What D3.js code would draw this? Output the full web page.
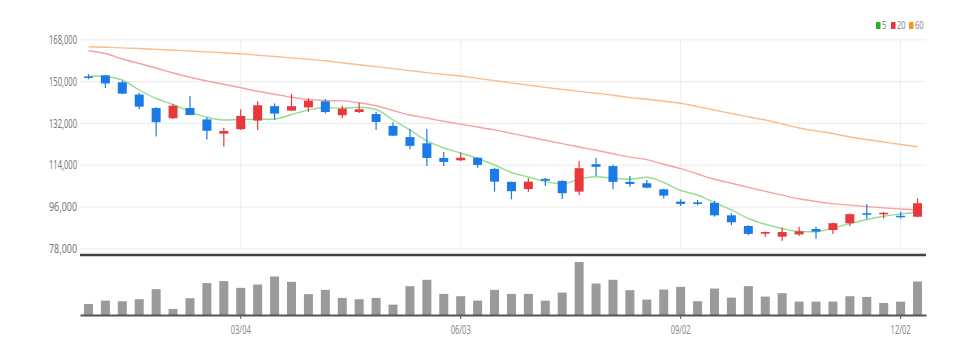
<!DOCTYPE html>
<html>
<head>
<meta charset="utf-8">
<script src="https://cdn.jsdelivr.net/npm/d3@7"></script>
<style>
  body { margin: 0; background: #fff; }
  text { font-family: "Noto Sans", sans-serif; }
</style>
</head>
<body>
<script>
// weekly candles, 2024
const weeks = ["01/01","01/08","01/15","01/22","01/29","02/05","02/12","02/19","02/26","03/04",
  "03/11","03/18","03/25","04/01","04/08","04/15","04/22","04/29","05/06","05/13",
  "05/20","05/27","06/03","06/10","06/17","06/24","07/01","07/08","07/15","07/22",
  "07/29","08/05","08/12","08/19","08/26","09/02","09/09","09/16","09/23","09/30",
  "10/07","10/14","10/21","10/28","11/04","11/11","11/18","11/25","12/02","12/09"];

const open = [152000,152500,149500,144200,138400,134000,138400,133500,127400,129300,
  133000,139200,137300,138700,141300,135300,136700,135800,130700,125900,
  123200,116900,115900,117000,112200,106600,103500,107900,107000,102400,
  114200,113400,106600,106000,103400,98100,97800,97600,92200,87600,
  84300,83000,84000,86300,85900,88800,93100,92700,92000,91600];
const high = [153000,152700,150200,145000,138700,140100,143600,134400,129900,137900,
  141300,140400,144600,142600,142200,139400,140700,136800,132300,129500,
  129400,119500,119200,117200,112700,106700,108200,108400,107300,115600,
  116900,114000,109100,107400,103600,99100,98800,98400,93100,87900,
  85200,86900,87300,87300,89000,93100,97100,93600,93900,99500];
const low = [150800,147000,144300,137900,126100,133700,135300,124900,121800,128900,
  128900,133300,137100,136800,136000,134100,136300,128900,126400,120600,
  113400,113400,115600,112700,102400,99100,102300,104800,99200,101000,
  109100,103400,104500,103900,99400,96200,96500,91600,88000,83600,
  83000,81300,83300,82100,84200,87600,90500,90800,90800,91400];
const close = [151500,149000,144600,139000,132300,139400,135400,128600,128500,135000,
  139600,136000,139200,141600,136700,138100,137900,132400,126500,122100,
  116900,115200,117000,113900,106700,102600,106700,107100,101700,112500,
  113100,106600,105700,104100,100700,97100,97100,92200,89200,84200,
  85000,85000,85300,85200,88800,92700,92500,93300,91400,97400];

// moving averages as drawn
const ma5 = [152200,151980,150470,146170,142510,139930,136830,134410,133250,133470,
  133550,133680,135620,137560,138630,138290,138720,137770,133250,128950,
  124210,121190,119040,116670,113870,110640,108710,106770,105690,107850,
  108840,108150,107720,108620,106340,102890,100960,97640,94500,90840,
  88340,86530,85240,85150,86750,88680,90410,91780,92770,93640];
const ma20 = [163090,161890,159520,157580,155640,153490,151680,150040,148620,147160,
  145610,144360,143030,142120,141650,141470,140700,139370,137340,135400,
  134110,132690,131440,130240,128990,127480,126020,124510,123050,121620,
  120200,118740,117280,116160,114180,112280,110000,107720,105990,104230,
  102510,100870,99320,98160,97250,96610,95960,95400,94930,94500];
const ma60 = [164810,164560,164300,164040,163650,163310,162920,162570,162190,161760,
  161150,160590,159990,159390,158740,157880,157020,156240,155380,154520,
  153660,152890,152200,151160,150220,149230,148280,147290,146430,145570,
  144750,143930,142900,142210,141350,140440,139020,137560,136050,134630,
  133250,131530,129810,128560,127440,125930,124850,123780,122700,121750];

// volume (thousand shares)
const volume = [220,286,274,314,514,120,334,634,674,540,
  606,766,660,414,500,340,314,340,206,574,
  700,420,374,286,500,420,420,286,446,1054,
  626,700,494,306,506,560,274,526,346,574,
  366,434,266,266,266,374,360,240,266,666];

const priceTicks = [78000,96000,114000,132000,150000,168000];
const dateTicks = ["03/04","06/03","09/02","12/02"];

const width = 975;
const height = 354;
const marginLeft = 80;
const marginRight = 49;
const priceTop = 39.3;
const priceBottom = 248.3;
const sepY = 255;
const volTop = 262;
const volBottom = 315;

const upColor = "#e8383b";
const downColor = "#1b7be6";

const idx = d3.range(weeks.length);

const x = d3.scaleBand()
    .domain(weeks)
    .range([marginLeft, width - marginRight])
    .padding(0);

const cx = d => x(weeks[d]) + x.bandwidth() / 2;

const y = d3.scaleLinear()
    .domain([78000, 168000])
    .range([priceBottom, priceTop]);

const yVol = d3.scaleLinear()
    .domain([0, d3.max(volume)])
    .range([volBottom, volTop]);

const svg = d3.select("body").append("svg")
    .attr("width", width)
    .attr("height", height)
    .attr("viewBox", [0, 0, width, height]);

// horizontal grid + y labels
svg.append("g")
    .attr("transform", `translate(${marginLeft},0)`)
    .call(d3.axisLeft(y).tickValues(priceTicks).tickFormat(d3.format(",")).tickSize(0).tickPadding(3))
    .call(g => g.select(".domain").remove())
    .call(g => g.selectAll(".tick line").clone()
        .attr("x2", width - marginLeft - marginRight)
        .attr("stroke", "#ebebeb"))
    .call(g => g.selectAll("text")
        .attr("fill", "#777")
        .style("font-size", "13px")
        .attr("textLength", 28)
        .attr("lengthAdjust", "spacingAndGlyphs"));

// vertical grid at date ticks
svg.append("g")
    .selectAll("line")
    .data(dateTicks)
    .join("line")
    .attr("x1", d => x(d) + x.bandwidth() / 2)
    .attr("x2", d => x(d) + x.bandwidth() / 2)
    .attr("y1", priceTop)
    .attr("y2", priceBottom)
    .attr("stroke", "#efefef");

// moving average lines
const maLines = [
  {values: ma60, color: "#fbbd8c"},
  {values: ma20, color: "#f5a2a4"},
  {values: ma5, color: "#96dd92"}
];
const line = d3.line()
    .x(d => cx(d[0]))
    .y(d => y(d[1]))
    .curve(d3.curveMonotoneX);

svg.append("g")
    .selectAll("path")
    .data(maLines)
    .join("path")
    .attr("fill", "none")
    .attr("stroke", d => d.color)
    .attr("stroke-width", 1.4)
    .attr("d", d => line(d.values.map((v, i) => [i, v])));

// candles
const candle = svg.append("g")
    .selectAll("g")
    .data(idx)
    .join("g")
    .attr("fill", i => close[i] > open[i] ? upColor : downColor)
    .attr("stroke", i => close[i] > open[i] ? upColor : downColor);

candle.append("line")
    .attr("x1", i => cx(i))
    .attr("x2", i => cx(i))
    .attr("y1", i => y(high[i]))
    .attr("y2", i => y(low[i]))
    .attr("stroke-width", 1.2);

candle.append("rect")
    .attr("x", i => cx(i) - 4.5)
    .attr("width", 9)
    .attr("y", i => y(Math.max(open[i], close[i])))
    .attr("height", i => Math.max(1.5, Math.abs(y(open[i]) - y(close[i]))))
    .attr("stroke", "none");

// separator between price and volume panels
svg.append("line")
    .attr("x1", marginLeft)
    .attr("x2", width - marginRight)
    .attr("y1", sepY)
    .attr("y2", sepY)
    .attr("stroke", "#444")
    .attr("stroke-width", 2.5);

// volume bars
svg.append("g")
    .attr("fill", "#9a9a9a")
    .selectAll("rect")
    .data(idx)
    .join("rect")
    .attr("x", i => cx(i) - 4.5)
    .attr("width", 9)
    .attr("y", i => yVol(volume[i]))
    .attr("height", i => yVol(0) - yVol(volume[i]));

// x axis
svg.append("g")
    .attr("transform", `translate(0,${volBottom})`)
    .call(d3.axisBottom(x).tickValues(dateTicks).tickSize(4).tickSizeOuter(0).tickPadding(6))
    .call(g => g.select(".domain").attr("stroke", "#555").attr("stroke-width", 2))
    .call(g => g.selectAll(".tick line").attr("stroke", "#555"))
    .call(g => g.selectAll("text")
        .attr("fill", "#888")
        .style("font-size", "13px")
        .attr("textLength", 20)
        .attr("lengthAdjust", "spacingAndGlyphs"));

// legend
const legend = [
  {label: "5", color: "#1fb42a", x: 876},
  {label: "20", color: "#e8383b", x: 891},
  {label: "60", color: "#f7931e", x: 909}
];
const lg = svg.append("g")
    .selectAll("g")
    .data(legend)
    .join("g")
    .attr("transform", d => `translate(${d.x},22)`);
lg.append("rect")
    .attr("width", 4.5)
    .attr("height", 7)
    .attr("fill", d => d.color);
lg.append("text")
    .attr("x", 6)
    .attr("y", 7)
    .attr("fill", "#888")
    .style("font-size", "10px")
    .attr("textLength", d => d.label.length * 4.3)
    .attr("lengthAdjust", "spacingAndGlyphs")
    .text(d => d.label);
</script>
</body>
</html>
